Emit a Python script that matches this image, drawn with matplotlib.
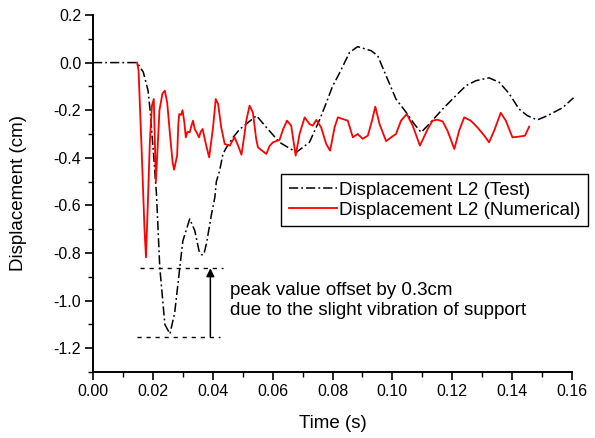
import matplotlib
matplotlib.use("Agg")
import matplotlib.pyplot as plt
from matplotlib.ticker import MultipleLocator, FormatStrFormatter

plt.rcParams['font.family'] = ['Liberation Sans', 'DejaVu Sans']

# Test (black dash-dot)
t_test = [0.0, 0.0147, 0.0168, 0.0184, 0.0192, 0.0196, 0.0203, 0.0212, 0.0223, 0.0240,
          0.0257, 0.0273, 0.0290, 0.0300, 0.0323, 0.0340, 0.0354, 0.0362, 0.0370, 0.0379,
          0.0396, 0.0407, 0.0412, 0.0423, 0.0434, 0.0446, 0.0468, 0.0490, 0.0512, 0.0546,
          0.0579, 0.0623, 0.0679, 0.0723, 0.0757, 0.0779, 0.0800, 0.0823, 0.0857, 0.0884,
          0.0929, 0.0951, 0.0979, 0.1012, 0.1046, 0.1073, 0.1096, 0.1123, 0.1168, 0.1212,
          0.1246, 0.1279, 0.1323, 0.1357, 0.1390, 0.1423, 0.1451, 0.1484, 0.1518, 0.1568,
          0.1605]
y_test = [0.0, 0.0, -0.04, -0.118, -0.216, -0.286, -0.398, -0.552, -0.86, -1.10,
          -1.14, -1.05, -0.86, -0.75, -0.657, -0.706, -0.79, -0.807, -0.807, -0.76,
          -0.636, -0.566, -0.50, -0.454, -0.384, -0.356, -0.314, -0.28, -0.258, -0.223,
          -0.272, -0.335, -0.377, -0.335, -0.24, -0.17, -0.10, -0.045, 0.043, 0.067,
          0.05, 0.029, -0.055, -0.153, -0.209, -0.258, -0.293, -0.258, -0.195, -0.139,
          -0.097, -0.076, -0.064, -0.083, -0.13, -0.195, -0.223, -0.241, -0.223, -0.19,
          -0.148]

# Numerical (red solid)
t_num = [0.0147, 0.0152, 0.0162, 0.0172, 0.0177, 0.0183, 0.0190, 0.0197, 0.0203, 0.0207,
         0.0210, 0.0215, 0.0222, 0.0232, 0.0240, 0.0248, 0.0257, 0.0266, 0.0271, 0.0281,
         0.0285, 0.0288, 0.0294, 0.0299, 0.0305, 0.0310, 0.0316, 0.0323, 0.0330, 0.0334,
         0.0340, 0.0346, 0.0354, 0.0360, 0.0366, 0.0377, 0.0388, 0.0395, 0.0401, 0.0410,
         0.0418, 0.0428, 0.0440, 0.0457, 0.0465, 0.0473, 0.0485, 0.0496, 0.0505, 0.0512,
         0.0523, 0.0534, 0.0545, 0.0551, 0.0565, 0.0579, 0.0590, 0.0601, 0.0623, 0.0635,
         0.0648, 0.0662, 0.0677, 0.0690, 0.0707, 0.0723, 0.0734, 0.0746, 0.0762, 0.0779,
         0.0792, 0.0807, 0.0818, 0.0834, 0.0851, 0.0868, 0.0884, 0.0901, 0.0918, 0.0932,
         0.0943, 0.0957, 0.0979, 0.0996, 0.1012, 0.1029, 0.1048, 0.1068, 0.1092, 0.1118,
         0.1134, 0.1150, 0.1168, 0.1184, 0.1207, 0.1223, 0.1240, 0.1262, 0.1284, 0.1307,
         0.1323, 0.1340, 0.1362, 0.1379, 0.1401, 0.1423, 0.1443, 0.1457]
y_num = [0.0, -0.03, -0.35, -0.70, -0.818, -0.60, -0.33, -0.18, -0.153, -0.35,
         -0.50, -0.38, -0.20, -0.13, -0.118, -0.17, -0.30, -0.42, -0.45, -0.39,
         -0.26, -0.216, -0.22, -0.20, -0.25, -0.314, -0.29, -0.293, -0.26, -0.244,
         -0.28, -0.293, -0.314, -0.29, -0.279, -0.342, -0.398, -0.33, -0.272, -0.153,
         -0.174, -0.27, -0.342, -0.349, -0.33, -0.314, -0.35, -0.387, -0.31, -0.244,
         -0.181, -0.209, -0.32, -0.356, -0.37, -0.384, -0.35, -0.335, -0.325, -0.28,
         -0.244, -0.265, -0.391, -0.30, -0.23, -0.258, -0.265, -0.241, -0.272, -0.342,
         -0.37, -0.272, -0.23, -0.237, -0.244, -0.314, -0.30, -0.32, -0.307, -0.244,
         -0.185, -0.258, -0.33, -0.314, -0.30, -0.244, -0.216, -0.265, -0.349, -0.279,
         -0.244, -0.24, -0.247, -0.286, -0.363, -0.286, -0.23, -0.244, -0.272, -0.307,
         -0.335, -0.286, -0.211, -0.244, -0.314, -0.311, -0.307, -0.269]

# Annotation values
peak_upper = -0.864
peak_lower = -1.151
peak_upper_x = [0.0157, 0.0435]
peak_lower_x = [0.0148, 0.0423]
arrow_x = 0.0392
note_text = "peak value offset by 0.3cm\ndue to the slight vibration of support"

labels = ["Displacement L2 (Test)", "Displacement L2 (Numerical)"]

fig = plt.figure(figsize=(5.95, 4.38), dpi=100)
ax = fig.add_axes([93/595, 1 - 372/438, (572-93)/595, (372-15)/438])

ax.plot(t_test, y_test, color='black', lw=1.1, linestyle=(0, (6, 2, 1.2, 2)),
        label=labels[0], clip_on=False)
ax.plot(t_num, y_num, color='#ff0000', lw=1.3, label=labels[1])

ax.plot(peak_upper_x, [peak_upper, peak_upper], color='black', lw=1.0, linestyle=(0, (3, 3.5)))
ax.plot(peak_lower_x, [peak_lower, peak_lower], color='black', lw=1.0, linestyle=(0, (3, 3.5)))
ax.annotate("", xy=(arrow_x, peak_upper), xytext=(arrow_x, peak_lower),
            arrowprops=dict(arrowstyle='-|>', color='black', lw=1.1,
                            mutation_scale=12, shrinkA=0, shrinkB=0))
ax.text(0.0457, -1.0, note_text, fontsize=13.5, va='center', ha='left', linespacing=1.25)

ax.set_xlim(0, 0.16)
ax.set_ylim(-1.3, 0.2)
ax.xaxis.set_major_locator(MultipleLocator(0.02))
ax.xaxis.set_minor_locator(MultipleLocator(0.01))
ax.yaxis.set_major_locator(MultipleLocator(0.2))
ax.yaxis.set_minor_locator(MultipleLocator(0.1))
ax.xaxis.set_major_formatter(FormatStrFormatter('%.2f'))
ax.yaxis.set_major_formatter(FormatStrFormatter('%.1f'))

for s in ['top', 'right']:
    ax.spines[s].set_visible(False)
for s in ['left', 'bottom']:
    ax.spines[s].set_linewidth(1.4)

ax.tick_params(which='major', direction='out', length=5.5, width=1.2, labelsize=11.5, pad=3)
ax.tick_params(which='minor', direction='out', length=3.5, width=1.0)

ax.set_xlabel("Time (s)", fontsize=13.5, labelpad=12)
ax.set_ylabel("Displacement (cm)", fontsize=13.5, labelpad=19)

leg = ax.legend(loc='upper right', bbox_to_anchor=(588/595, 1 - 174/438),
                bbox_transform=fig.transFigure, fontsize=13.5, frameon=True,
                fancybox=False, edgecolor='black', framealpha=1, borderaxespad=0,
                handlelength=2.6, handletextpad=0.1, borderpad=0.4, labelspacing=0.15)
leg.get_frame().set_linewidth(1.0)

fig.savefig("out.png", dpi=100)
